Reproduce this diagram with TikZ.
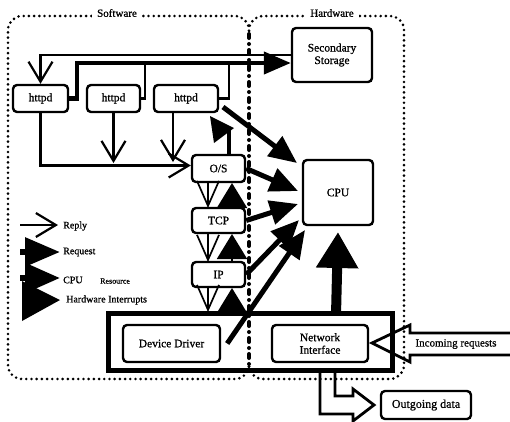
\documentclass[tikz,border=0pt]{standalone}
\usepackage{fontspec}
\setmainfont{Liberation Serif}[FakeBold=0.8]
\usetikzlibrary{arrows.meta,calc}
\begin{document}
\begin{tikzpicture}[x=1pt,y=-1pt,
  box/.style={draw,line width=2.4pt,rounded corners=4pt,inner sep=0pt,
    align=center,font=\fontsize{11.5}{12.5}\selectfont},
  region/.style={line width=2.9pt,line cap=round,dash pattern=on 0pt off 5.2pt},
  divider/.style={line width=4pt,line cap=round,dash pattern=on 4pt off 6pt on 0pt off 6pt},
  thinline/.style={line width=2.2pt},
  reply/.style={line width=2.2pt,-{Straight Barb[length=20pt,width=24pt]}},
  stackreply/.style={line width=1.7pt,-{Straight Barb[length=25pt,width=22pt]}},
  stackreq/.style={line width=2pt,-{Triangle[length=25pt,width=30pt]}},
  request/.style={line width=4.2pt,-{Triangle[length=27pt,width=22pt]}},
  cpures/.style={line width=5pt,-{Triangle[length=28pt,width=24pt]}},
  blockarrow/.style={line width=2.8pt,line join=miter},
  regionlabel/.style={fill=white,inner xsep=5pt,inner ysep=1pt,font=\fontsize{11}{12}\selectfont},
  legendtext/.style={anchor=west,inner sep=0pt,font=\fontsize{10}{11}\selectfont},
]
\useasboundingbox (0,0) rectangle (510,421);

% software and hardware regions, split by the dash-dot divider
\draw[region,rounded corners=14pt] (249,36) -- (249,16) -- (8,16) -- (8,379) -- (249,379) -- (249,362);
\draw[region,rounded corners=14pt] (249,36) -- (249,16) -- (404,16) -- (404,379) -- (249,379) -- (249,362);
\node[regionlabel] (swlabel) at (117,13) {Software};
\node[regionlabel] (hwlabel) at (332,13) {Hardware};
\draw[divider] (249,34) -- (249,366);

% processes and devices
\node[box,minimum width=55pt,minimum height=27pt] (h1) at (40.5,98.5) {httpd};
\node[box,minimum width=53pt,minimum height=27pt] (h2) at (113.5,98.5) {httpd};
\node[box,minimum width=64pt,minimum height=27pt] (h3) at (186,98.5) {httpd};
\node[box,minimum width=80pt,minimum height=54pt] (store) at (332,55) {Secondary\\Storage};
\node[box,minimum width=53pt,minimum height=27pt] (os) at (218.5,168.5) {O/S};
\node[box,minimum width=53pt,minimum height=25pt] (tcp) at (218.5,220.5) {TCP};
\node[box,minimum width=53pt,minimum height=25pt] (ip) at (218.5,274.5) {IP};
\node[box,minimum width=70pt,minimum height=65pt] (cpu) at (338,192.5) {CPU};
\node[draw,line width=5pt,minimum width=284pt,minimum height=57pt,inner sep=0pt] (hw) at (250,341.5) {};
\node[box,minimum width=97pt,minimum height=37pt] (dd) at (171.5,343.5) {Device Driver};
\node[box,minimum width=96pt,minimum height=37pt] (ni) at (320,343.5) {Network\\Interface};
\node[box,minimum width=90pt,minimum height=28pt,font=\fontsize{12}{13}\selectfont] (out) at (426,405) {Outgoing data};

% storage traffic
\draw[reply] (store.west) -| (h1.north);
\draw[request] (h1.east) -- ++(8,0) |- ([yshift=-8pt]store.west);
\draw[thinline] (h2.east) -| (145,63);
\draw[thinline] (h3.east) -| (229,63);

% replies down to the operating system
\draw[reply] (h1.south) |- ([yshift=3pt]os.west);
\draw[reply] (h2.south) -- (113.5,163);
\draw[reply] ([xshift=-13pt]h3.south) -- (173,162);

% protocol stack: replies down, requests up
\coordinate (osS) at (208,182);
\coordinate (tcpN) at (208,208);
\coordinate (tcpS) at (208,233);
\coordinate (ipN) at (208,262);
\coordinate (ipS) at (208,287);
\coordinate (hwN) at (208,312);
\draw[stackreply] (osS) -- (tcpN);
\draw[stackreply] (tcpS) -- (ipN);
\draw[stackreply] (ipS) -- (hwN);
\draw[stackreq] (232,208) -- (232,183);
\draw[stackreq] (232,262) -- (232,234);
\draw[stackreq] (232,312) -- (232,288);

% request from the O/S back up to the server
\draw[line width=4pt] ([xshift=10.5pt]os.north) -- (229,130);
\fill (210,116) -- (234,128) -- (214,143) -- cycle;

% CPU demand
\draw[cpures] (223,107) -- (297,163);
\draw[cpures] (os.east) -- (298,191);
\draw[cpures] (tcp.east) -- (298,204);
\draw[cpures] (ip.east) -- (299,220);
\draw[cpures] ([xshift=6pt]dd.east) -- (305,230);

% hardware interrupt
\draw[line width=10pt,-{Triangle[length=36pt,width=40pt]}] (336,315) -- (cpu.south |- 0,232);

% network traffic
\draw[blockarrow] (510,333) -- (410,333) -- (410,325) -- (372,343) -- (410,362) -- (410,355) -- (510,355);
\node[font=\fontsize{11}{12}\selectfont,inner sep=0pt] (inc) at (456,344) {Incoming requests};
\draw[blockarrow] (320,372) -- (320,414) -- (353,414) -- (353,421) -- (374,405) -- (353,389) -- (353,396) -- (335,396) -- (335,372);

% legend
\draw[reply] (20,225) -- (58,225);
\node[legendtext] (lg1) at (63,226) {Reply};
\draw[line width=6pt,-{Triangle[length=35pt,width=28pt]}] (20,252) -- (60,252);
\node[legendtext] (lg2) at (63,252) {Request};
\draw[line width=6pt,-{Triangle[length=35pt,width=29pt]}] (20,278) -- (60,278);
\node[legendtext] (lg3) at (63,280) {CPU};
\node[legendtext,font=\fontsize{8}{9}\selectfont] (lg3b) at (100,281) {Resource};
\fill (22,281) -- (60,300) -- (22,321) -- cycle;
\node[legendtext] (lg4) at (66,300) {Hardware Interrupts};
\end{tikzpicture}
\end{document}
